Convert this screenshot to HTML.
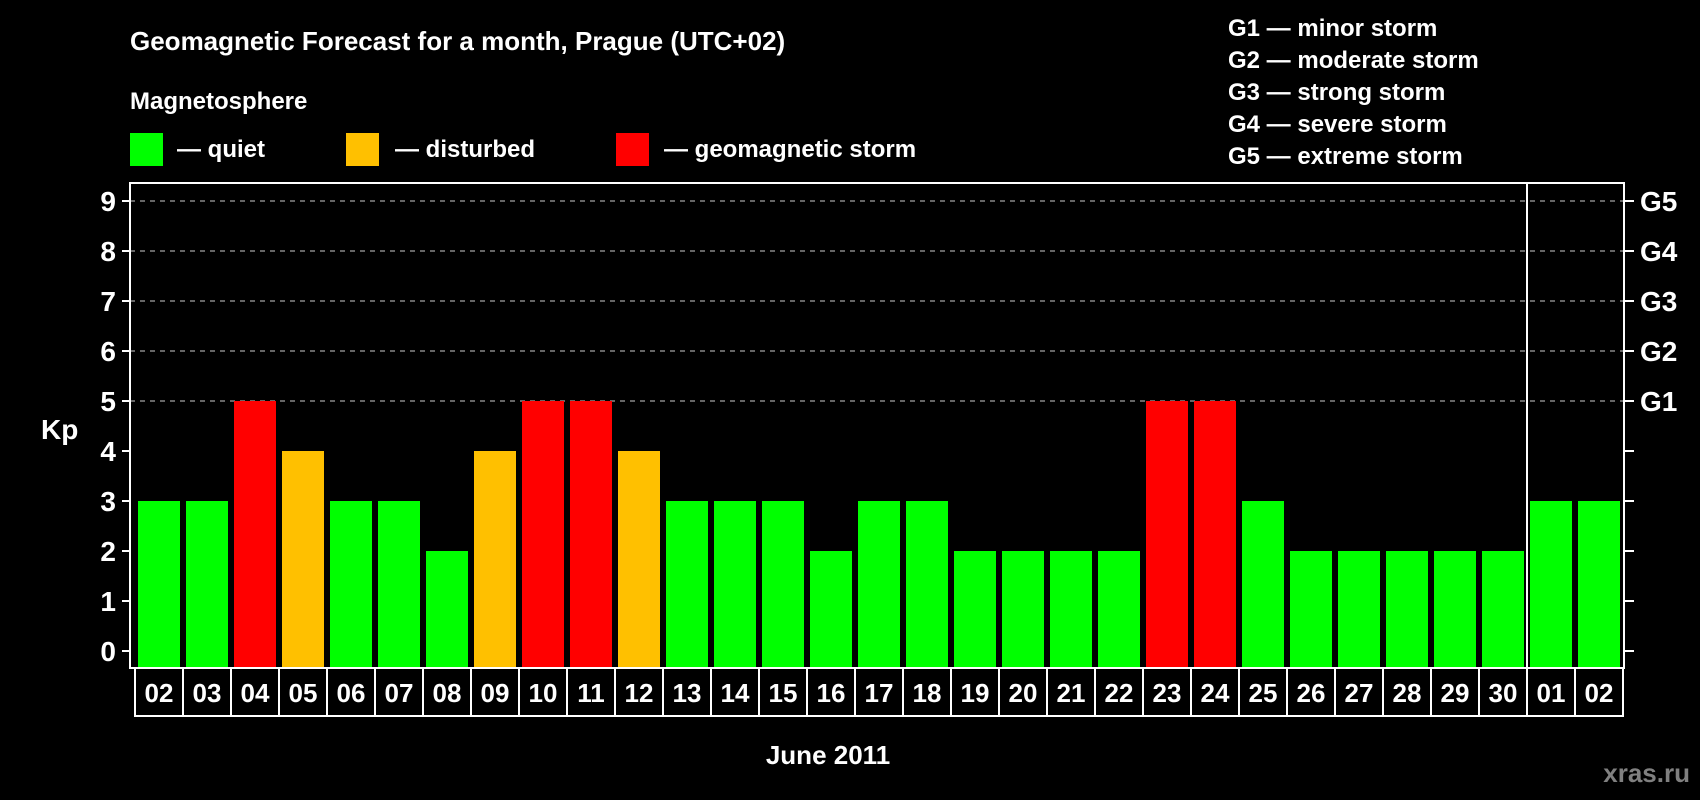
<!DOCTYPE html>
<html><head><meta charset="utf-8"><style>
html,body{margin:0;padding:0;background:#000;}
svg{display:block;font-family:"Liberation Sans",Arial,sans-serif;font-weight:bold;}
</style></head><body>
<svg id="chart" width="1700" height="800" viewBox="0 0 1700 800">
<rect x="0" y="0" width="1700" height="800" fill="#000"/>
<text x="130" y="50" fill="#fff" font-size="26">Geomagnetic Forecast for a month, Prague (UTC+02)</text>
<text x="130" y="109" fill="#fff" font-size="24">Magnetosphere</text>
<g><rect x="130" y="133" width="33" height="33" fill="#00ff00"/><text x="177" y="157" fill="#fff" font-size="24">— quiet</text></g>
<g><rect x="346" y="133" width="33" height="33" fill="#ffc000"/><text x="395" y="157" fill="#fff" font-size="24">— disturbed</text></g>
<g><rect x="616" y="133" width="33" height="33" fill="#ff0000"/><text x="664" y="157" fill="#fff" font-size="24">— geomagnetic storm</text></g>
<g fill="#fff" font-size="24">
<text x="1228" y="36">G1 — minor storm</text>
<text x="1228" y="68">G2 — moderate storm</text>
<text x="1228" y="100">G3 — strong storm</text>
<text x="1228" y="132">G4 — severe storm</text>
<text x="1228" y="164">G5 — extreme storm</text>
</g>
<text x="41" y="439" fill="#fff" font-size="28">Kp</text>
<text x="828" y="764" fill="#fff" font-size="26" text-anchor="middle">June 2011</text>
<text x="1690" y="782" fill="#808080" font-size="26" text-anchor="end">xras.ru</text>
<g id="grid"></g><g id="bars"></g><g id="axes"></g>
</svg>
<script>
const days = ["02","03","04","05","06","07","08","09","10","11","12","13","14","15","16","17","18","19","20","21","22","23","24","25","26","27","28","29","30","01","02"];
const kpValues = [3,3,5,4,3,3,2,4,5,5,4,3,3,3,2,3,3,2,2,2,2,5,5,3,2,2,2,2,2,3,3];
const yTicks = [0,1,2,3,4,5,6,7,8,9];
const stormLabels = {5:"G1",6:"G2",7:"G3",8:"G4",9:"G5"};
const monthBreakIndex = 29;
const NS="http://www.w3.org/2000/svg";
const L=130,R=1624,T=183,B=668;
const pitch=(1623-135)/days.length;
function xs(i){return 135+pitch*i;}
function ys(v){return 651-50*v;}
function mk(tag,attrs,parent){const e=document.createElementNS(NS,tag);for(const k in attrs)e.setAttribute(k,attrs[k]);parent.appendChild(e);return e;}
function color(v){return v>=5?"#ff0000":(v>=4?"#ffc000":"#00ff00");}
const grid=document.getElementById('grid'),bars=document.getElementById('bars'),axes=document.getElementById('axes');
yTicks.forEach(v=>{
  if(v>=5){const g=mk('line',{x1:L,x2:R,y1:ys(v),y2:ys(v),stroke:'#888','stroke-dasharray':'5,5','stroke-width':1.5},grid);
  
  }
  const t1=mk('line',{x1:L-8,x2:L,y1:ys(v),y2:ys(v),stroke:'#fff','stroke-width':2},axes);
  
  
  const t2=mk('line',{x1:R,x2:R+10,y1:ys(v),y2:ys(v),stroke:'#fff','stroke-width':2},axes);
  
  
  const tl=mk('text',{x:L-14,y:ys(v)+10,fill:'#fff','font-size':28,'text-anchor':'end'},axes);
  tl.textContent=v;
  
  
  if(stormLabels[v]){const s=mk('text',{x:R+16,y:ys(v)+10,fill:'#fff','font-size':28},axes);
  s.textContent=stormLabels[v];
  
  }
});
kpValues.forEach((v,i)=>{
  const b=mk('rect',{x:xs(i)+3,y:ys(v),width:pitch-6,height:ys(0)-ys(v)+17,fill:color(v)},bars);
  
  
  const bx=mk('rect',{x:xs(i),y:B,width:pitch,height:48,fill:'none',stroke:'#fff','stroke-width':2},axes);
  
  
  const lt=mk('text',{x:xs(i)+pitch/2,y:B+34,fill:'#fff','font-size':26,'text-anchor':'middle'},axes);
  lt.textContent=days[i];
  
  
});
const frame=mk('rect',{x:L,y:T,width:R-L,height:B-T,fill:'none',stroke:'#fff','stroke-width':2},axes);


const dv=mk('line',{x1:xs(monthBreakIndex),x2:xs(monthBreakIndex),y1:T,y2:B,stroke:'#fff','stroke-width':2},axes);


</script>
</body></html>
